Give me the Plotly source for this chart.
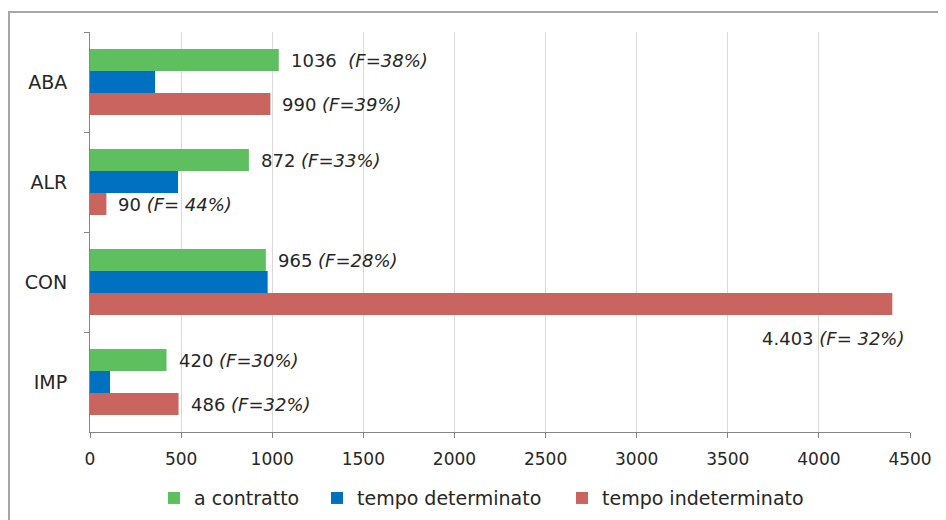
import plotly.graph_objects as go

categories = ["ABA", "ALR", "CON", "IMP"]
series_names = ["a contratto", "tempo determinato", "tempo indeterminato"]
a_contratto = [1036, 872, 965, 420]
tempo_determinato = [357, 483, 975, 110]
tempo_indeterminato = [990, 90, 4403, 486]
label_contratto = ["1036  <i>(F=38%)</i>", "872 <i>(F=33%)</i>", "965 <i>(F=28%)</i>", "420 <i>(F=30%)</i>"]
label_indeterminato = ["990 <i>(F=39%)</i>", "90 <i>(F= 44%)</i>", "4.403 <i>(F= 32%)</i>", "486 <i>(F=32%)</i>"]
x_ticks = [0, 500, 1000, 1500, 2000, 2500, 3000, 3500, 4000, 4500]

colors = ["#5EBF5F", "#0070C0", "#C9645F"]
values = [a_contratto, tempo_determinato, tempo_indeterminato]
legend_ids = ["legend", "legend2", "legend3"]

fig = go.Figure()
for name, vals, col, lg in zip(series_names, values, colors, legend_ids):
    fig.add_trace(go.Bar(y=categories, x=vals, name=name, orientation="h", legend=lg,
                         marker=dict(color=col, line=dict(width=0))))

label_font = dict(family="DejaVu Sans", size=18, color="#262626")
annotations = []
for cat, v, t in zip(categories, a_contratto, label_contratto):
    annotations.append(dict(x=v, y=cat, xref="x", yref="y", text=t, showarrow=False,
                            xanchor="left", yanchor="middle", xshift=10, yshift=22, font=label_font))
for cat, v, t in zip(categories, tempo_indeterminato, label_indeterminato):
    if v > 4000:
        annotations.append(dict(x=v, y=cat, xref="x", yref="y", text=t, showarrow=False,
                                xanchor="right", yanchor="middle", xshift=14, yshift=-56, font=label_font))
    else:
        annotations.append(dict(x=v, y=cat, xref="x", yref="y", text=t, showarrow=False,
                                xanchor="left", yanchor="middle", xshift=10, yshift=-22, font=label_font))

axis_font = dict(family="DejaVu Sans", size=17, color="#262626")

L, T, R, B = 82, 24, 44, 95
W, H = 946, 520
pw, ph = W - L - R, H - T - B

legend_font = dict(family="DejaVu Sans", size=19, color="#262626")
legend_lefts = [146, 309, 554]


def make_legend(px):
    return dict(orientation="h", x=(px - L) / pw, xanchor="left", y=-0.115, yanchor="top",
                font=legend_font, itemwidth=30, bgcolor="rgba(0,0,0,0)")


fig.update_layout(
    width=W, height=H,
    margin=dict(l=L, r=R, t=T, b=B),
    paper_bgcolor="white", plot_bgcolor="white",
    barmode="group", bargap=0.34, bargroupgap=0,
    showlegend=True,
    legend=make_legend(legend_lefts[0]),
    legend2=make_legend(legend_lefts[1]),
    legend3=make_legend(legend_lefts[2]),
    xaxis=dict(range=[0, 4500], tickvals=x_ticks, ticktext=[str(v) for v in x_ticks],
               showgrid=True, gridcolor="#D9D9D9", gridwidth=1,
               showline=True, linecolor="#868686", linewidth=1,
               ticks="outside", ticklen=5, tickcolor="#868686",
               tickfont=axis_font, zeroline=False, fixedrange=True,
               automargin=False, ticklabelstandoff=7),
    yaxis=dict(categoryorder="array", categoryarray=categories, autorange="reversed",
               showline=True, linecolor="#868686", linewidth=1,
               ticks="outside", ticklen=5, tickcolor="#868686", tickson="boundaries",
               showgrid=False, tickfont=dict(family="DejaVu Sans", size=19, color="#262626"),
               ticklabelstandoff=18, fixedrange=True, automargin=False),
    annotations=annotations,
    shapes=[dict(type="rect", xref="paper", yref="paper",
                 x0=(1 - L) / pw, x1=(W + 20 - L) / pw,
                 y0=(ph - (H + 20 - T)) / ph, y1=(ph - (4 - T)) / ph,
                 line=dict(color="#A6A6A6", width=2), fillcolor="rgba(0,0,0,0)", layer="below")],
)

fig.write_html("out.html")
